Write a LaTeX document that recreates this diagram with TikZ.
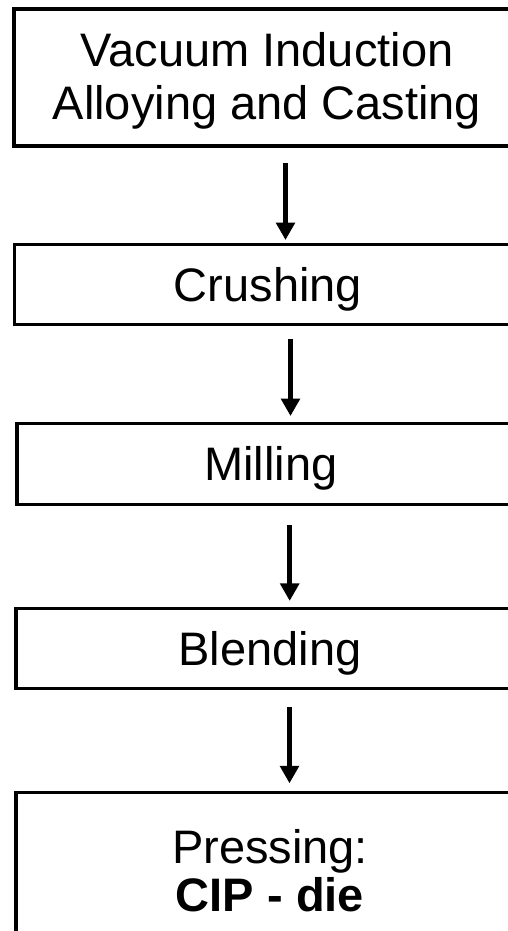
\documentclass[tikz,border=0pt]{standalone}
\usepackage{fontspec}
\setmainfont{Liberation Sans}
\usetikzlibrary{arrows.meta}

\tikzset{
  stage/.style={draw, rectangle, line width=3.5pt, inner sep=0pt, outer sep=0pt,
    align=center, font=\fontsize{47}{53}\selectfont},
  oneline/.style={text height=34pt, text depth=0pt},
  flow/.style={line width=5.5pt, -{Triangle[length=17.5pt, width=18.5pt]}}
}

\begin{document}
\begin{tikzpicture}[x=1pt, y=-1pt]
  % page frame; the boxes run past its right and bottom edges
  \path[use as bounding box, clip] (0,0) rectangle (508,931);
  \fill[white] (0,0) rectangle (508,931);

  % process stages
  \node[stage, minimum width=506pt, minimum height=137pt, text depth=4pt]
    (alloy) at (267,77.5) {Vacuum Induction\\Alloying and Casting};
  \node[stage, oneline, minimum width=507pt, minimum height=80pt]
    (crush) at (268,284.5) {Crushing};
  \node[stage, oneline, minimum width=508pt, minimum height=81pt]
    (mill) at (271,463.8) {Milling};
  \node[stage, oneline, minimum width=508pt, minimum height=80pt]
    (blend) at (270,648.6) {Blending};
  \node[stage, font=\fontsize{47}{48}\selectfont, minimum width=508pt, minimum height=156.4pt]
    (press) at (270,870.5) {Pressing:\\\textbf{CIP - die}};

  % horizontal positions of the arrows
  \coordinate (a1) at (285.5,0);
  \coordinate (a2) at (290.5,0);
  \coordinate (a3) at (289.7,0);
  \coordinate (a4) at (289.5,0);

  % flow arrows between stages
  \draw[flow] ([yshift=-17.3pt]alloy.south -| a1) -- ([yshift=4.5pt]crush.north -| a1);
  \draw[flow] ([yshift=-14.5pt]crush.south -| a2) -- ([yshift=7.3pt]mill.north -| a2);
  \draw[flow] ([yshift=-20.7pt]mill.south -| a3) -- ([yshift=7.7pt]blend.north -| a3);
  \draw[flow] ([yshift=-18.8pt]blend.south -| a4) -- ([yshift=9pt]press.north -| a4);
\end{tikzpicture}
\end{document}
